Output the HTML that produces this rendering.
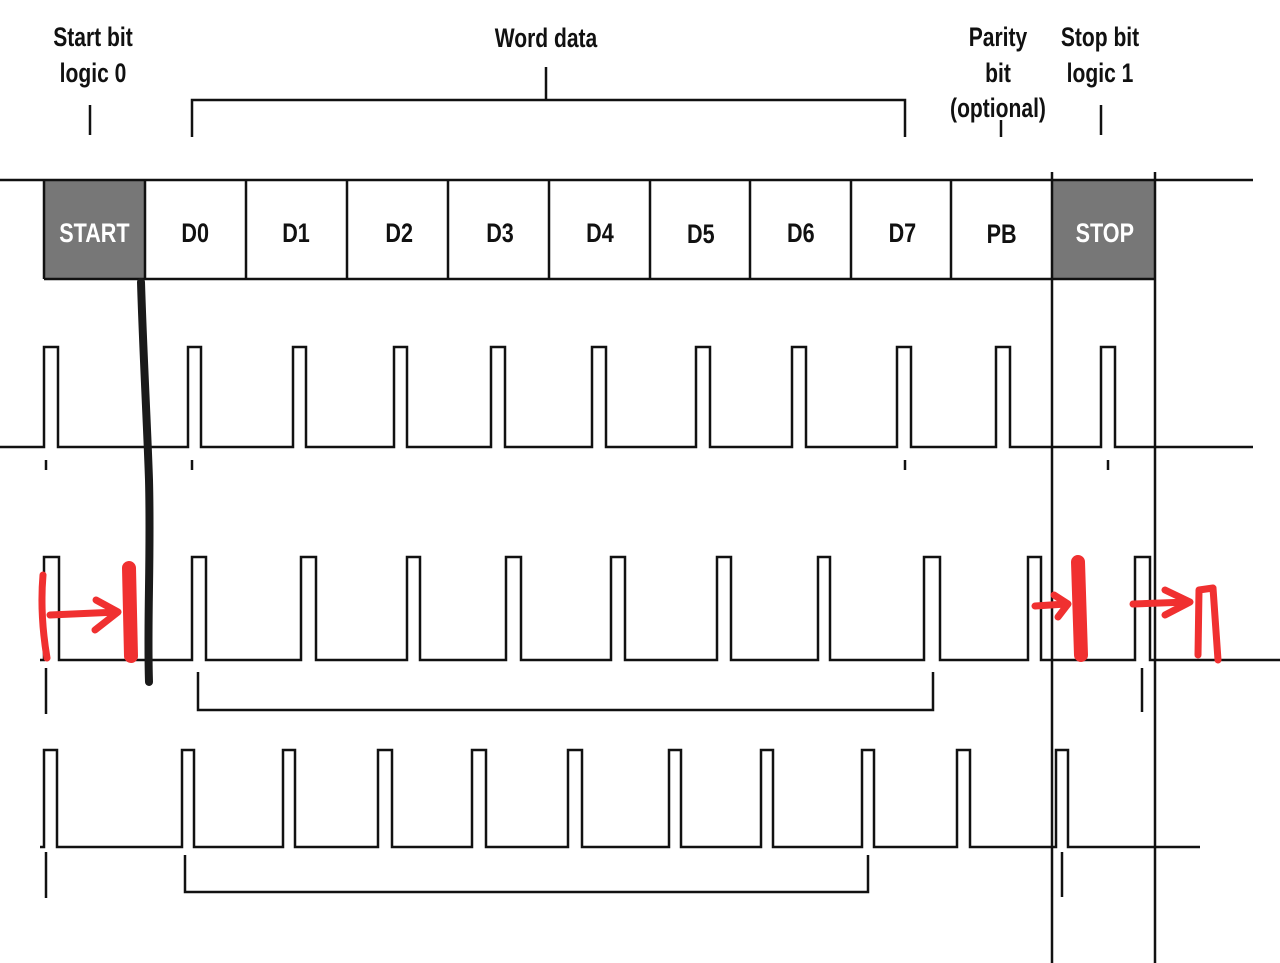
<!DOCTYPE html>
<html><head><meta charset="utf-8"><style>
html,body{margin:0;padding:0;background:#fff;}
svg{display:block;}
text{font-family:"Liberation Sans",sans-serif;font-size:27px;fill:#111;font-weight:bold;}
</style></head><body>
<svg width="1280" height="963" viewBox="0 0 1280 963" xmlns="http://www.w3.org/2000/svg">
<g fill="none" stroke="#111" stroke-width="2.5">
<line x1="90" y1="105" x2="90" y2="135"/>
<polyline points="192,137 192,100 905,100 905,137"/>
<line x1="546" y1="67" x2="546" y2="100"/>
<line x1="1001" y1="120" x2="1001" y2="137"/>
<line x1="1101" y1="105" x2="1101" y2="135"/>
</g>
<rect x="44" y="180" width="101" height="99" fill="#777"/>
<rect x="1052" y="180" width="103" height="99" fill="#777"/>
<g fill="none" stroke="#111" stroke-width="2.5">
<line x1="0" y1="180" x2="1253" y2="180"/>
<line x1="44" y1="279" x2="1155" y2="279"/>
<line x1="44" y1="180" x2="44" y2="279"/>
<line x1="145" y1="180" x2="145" y2="279"/>
<line x1="246" y1="180" x2="246" y2="279"/>
<line x1="347" y1="180" x2="347" y2="279"/>
<line x1="448" y1="180" x2="448" y2="279"/>
<line x1="549" y1="180" x2="549" y2="279"/>
<line x1="650" y1="180" x2="650" y2="279"/>
<line x1="750" y1="180" x2="750" y2="279"/>
<line x1="851" y1="180" x2="851" y2="279"/>
<line x1="951" y1="180" x2="951" y2="279"/>
<line x1="1052" y1="172" x2="1052" y2="963"/>
<line x1="1155" y1="172" x2="1155" y2="963"/>
</g>
<g text-anchor="middle">
<text x="93" y="46" transform="translate(93 0) scale(0.78 1) translate(-93 0)">Start bit</text>
<text x="93" y="82" transform="translate(93 0) scale(0.78 1) translate(-93 0)">logic 0</text>
<text x="546" y="47" transform="translate(546 0) scale(0.78 1) translate(-546 0)">Word data</text>
<text x="998" y="46" transform="translate(998 0) scale(0.78 1) translate(-998 0)">Parity</text>
<text x="998" y="82" transform="translate(998 0) scale(0.78 1) translate(-998 0)">bit</text>
<text x="998" y="117" transform="translate(998 0) scale(0.78 1) translate(-998 0)">(optional)</text>
<text x="1100" y="46" transform="translate(1100 0) scale(0.78 1) translate(-1100 0)">Stop bit</text>
<text x="1100" y="82" transform="translate(1100 0) scale(0.78 1) translate(-1100 0)">logic 1</text>
<g transform="scale(0.8 1)">
<text x="118" y="242" style="fill:#fff">START</text>
<text x="244" y="242">D0</text>
<text x="370" y="242">D1</text>
<text x="499" y="242">D2</text>
<text x="625" y="242">D3</text>
<text x="750" y="242">D4</text>
<text x="876" y="243">D5</text>
<text x="1001" y="242">D6</text>
<text x="1128" y="242">D7</text>
<text x="1252" y="243">PB</text>
<text x="1381" y="242" style="fill:#fff">STOP</text>
</g>
</g>
<g fill="none" stroke="#111" stroke-width="2.5">
<polyline points="0,447 44,447 44,347 58,347 58,447 188,447 188,347 201,347 201,447 293,447 293,347 306,347 306,447 394,447 394,347 407,347 407,447 491,447 491,347 505,347 505,447 592,447 592,347 606,347 606,447 696,447 696,347 710,347 710,447 792,447 792,347 806,347 806,447 897,447 897,347 911,347 911,447 996,447 996,347 1010,347 1010,447 1101,447 1101,347 1115,347 1115,447 1253,447"/>
<line x1="46" y1="460" x2="46" y2="470"/><line x1="192" y1="460" x2="192" y2="470"/>
<line x1="905" y1="460" x2="905" y2="470"/><line x1="1108" y1="460" x2="1108" y2="470"/>
<polyline points="40,660 44,660 44,557 59,557 59,660 192,660 192,557 206,557 206,660 301,660 301,557 316,557 316,660 407,660 407,557 420,557 420,660 506,660 506,557 521,557 521,660 611,660 611,557 625,557 625,660 717,660 717,557 731,557 731,660 818,660 818,557 830,557 830,660 924,660 924,557 940,557 940,660 1028,660 1028,557 1041,557 1041,660 1135,660 1135,557 1150,557 1150,660 1280,660"/>
<line x1="46" y1="668" x2="46" y2="714"/><line x1="1142" y1="668" x2="1142" y2="712"/>
<polyline points="198,672 198,710 933,710 933,672"/>
<polyline points="40,847 44,847 44,750 57,750 57,847 182,847 182,750 194,750 194,847 283,847 283,750 295,750 295,847 378,847 378,750 392,750 392,847 472,847 472,750 486,750 486,847 568,847 568,750 582,750 582,847 669,847 669,750 681,750 681,847 761,847 761,750 773,750 773,847 862,847 862,750 874,750 874,847 957,847 957,750 970,750 970,847 1056,847 1056,750 1068,750 1068,847 1200,847"/>
<line x1="46" y1="852" x2="46" y2="898"/><line x1="1062" y1="852" x2="1062" y2="897"/>
<polyline points="185,855 185,892 868,892 868,855"/>
</g>
<path d="M141,282 C143,350 147,420 149,480 C151,560 147,620 149,682" fill="none" stroke="#1a1a1a" stroke-width="8" stroke-linecap="round"/>
<g fill="none" stroke="#f03030" stroke-linecap="round" stroke-linejoin="round">
<path d="M43,575 C40,610 44,640 47,658" stroke-width="7"/>
<path d="M50,615 L118,612 M96,600 L118,612 L95,630" stroke-width="7"/>
<path d="M129,568 L131,656" stroke-width="14"/>
<path d="M1035,606 L1066,604 M1054,595 L1068,604 L1058,617" stroke-width="7"/>
<path d="M1078,562 L1081,655" stroke-width="14"/>
<path d="M1133,604 L1188,602 M1165,590 L1190,602 L1165,615" stroke-width="7"/>
<path d="M1198,655 L1199,590 L1213,588 L1218,660" stroke-width="7"/>
</g>
</svg>
</body></html>
